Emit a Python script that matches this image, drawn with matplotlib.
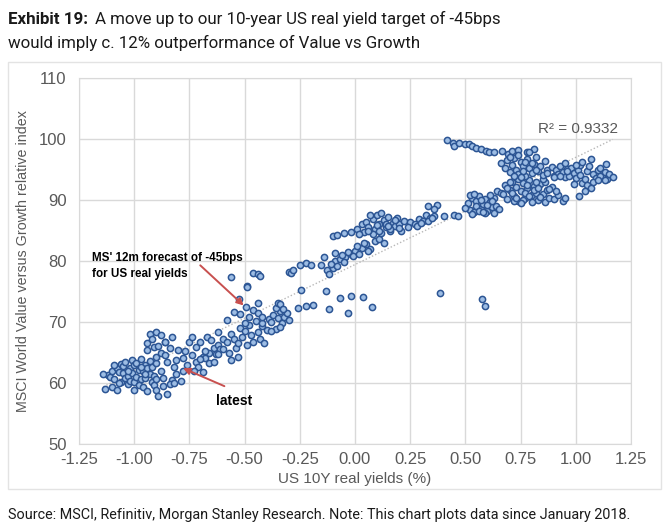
import numpy as np
import matplotlib
matplotlib.use("Agg")
import matplotlib.pyplot as plt
from matplotlib.patches import Rectangle

# US 10Y real yield (%) vs MSCI World Value/Growth relative index
# clusters roughly follow the path of the data through time
x_a = [-1.12, -1.11, -1.10, -1.10, -1.09, -1.08, -1.08, -1.07, -1.06, -1.06, -1.05, -1.05,
       -1.04, -1.04, -1.03, -1.03, -1.02, -1.02, -1.01, -1.01, -1.00, -1.00, -0.99, -0.99,
       -0.98, -0.98, -0.97, -0.97, -0.96, -0.96, -0.95, -0.95, -0.94, -0.94, -0.93, -0.93,
       -0.92, -0.92, -0.91, -0.91, -0.90, -0.90, -1.09, -1.07, -1.03, -1.00, -0.97, -0.95,
       -1.14, -1.13]
y_a = [61.3, 61.0, 59.4, 62.0, 60.6, 58.9, 62.4, 61.8, 63.1, 60.2, 61.7, 62.8,
       60.9, 63.5, 61.2, 59.8, 62.5, 60.4, 63.8, 61.6, 60.1, 62.9, 61.0, 63.3,
       59.7, 62.2, 60.6, 64.0, 61.9, 59.3, 63.0, 60.8, 62.4, 58.7, 61.5, 63.6,
       60.2, 62.7, 61.1, 59.6, 63.2, 60.7, 63.0, 60.0, 62.0, 58.9, 62.6, 61.4,
       61.4, 59.0]

x_b = [-0.93, -0.90, -0.88, -0.86, -0.83, -0.94, -0.91, -0.86, -0.84, -0.94, -0.90, -0.88,
       -0.85, -0.82, -0.81, -0.88, -0.87, -0.83, -0.81, -0.78, -0.78, -0.80, -0.90, -0.89,
       -0.85, -0.87, -0.84, -0.82, -0.79, -0.92, -0.89, -0.86]
y_b = [68.1, 68.4, 67.8, 66.8, 67.6, 66.5, 65.9, 66.8, 65.7, 65.4, 64.3, 64.9,
       63.5, 62.7, 63.8, 61.9, 60.8, 60.5, 61.4, 61.9, 64.1, 65.4, 58.9, 57.9,
       58.2, 59.5, 59.9, 60.0, 60.3, 67.2, 66.0, 64.6]

x_c = [-0.77, -0.75, -0.74, -0.72, -0.70, -0.69, -0.67, -0.66, -0.65, -0.64, -0.72, -0.71,
       -0.68, -0.66, -0.63, -0.62, -0.76, -0.73, -0.70, -0.68, -0.64, -0.61, -0.60, -0.62,
       -0.74, -0.69]
y_c = [65.2, 66.8, 64.6, 65.9, 66.8, 64.2, 67.6, 64.9, 67.0, 65.7, 63.5, 62.6,
       64.1, 63.2, 64.8, 66.3, 63.0, 62.0, 63.9, 65.3, 63.4, 65.5, 67.2, 68.3,
       67.5, 61.8]

x_d = [-0.60, -0.58, -0.57, -0.56, -0.55, -0.54, -0.53, -0.52, -0.51, -0.50, -0.49, -0.48,
       -0.47, -0.46, -0.45, -0.44, -0.43, -0.42, -0.41, -0.40, -0.39, -0.58, -0.55, -0.52,
       -0.50, -0.48, -0.46, -0.44, -0.42, -0.56, -0.53, -0.62,
       -0.38, -0.37, -0.36, -0.35, -0.34, -0.33, -0.32, -0.31, -0.30, -0.38, -0.36, -0.34]
y_d = [65.5, 66.8, 64.9, 68.0, 67.2, 65.8, 66.5, 69.0, 67.6, 68.6, 66.3, 69.5,
       67.9, 66.8, 70.2, 68.4, 67.2, 69.3, 66.6, 68.7, 70.5, 70.4, 71.7, 71.3,
       69.9, 70.8, 72.0, 71.5, 69.8, 63.8, 64.3, 64.8,
       70.0, 71.2, 68.9, 70.6, 71.8, 69.8, 70.9, 71.5, 70.3, 68.6, 72.3, 69.2]

# scattered points between 70 and 78
x_e = [-0.56, -0.46, -0.44, -0.49, -0.525, -0.44, -0.495, -0.35, -0.43, -0.49, -0.30,
       -0.243, -0.132, -0.066, -0.018, 0.037, 0.078, -0.118, -0.03, -0.19, -0.22, -0.26,
       -0.34, -0.325, -0.42, 0.386, 0.573, 0.588]
y_e = [77.4, 78.1, 77.8, 75.9, 73.7, 73.1, 72.4, 73.1, 77.6, 75.7, 78.2,
       75.3, 75.1, 73.9, 74.3, 74.1, 72.5, 72.1, 71.4, 72.8, 72.6, 72.3,
       72.9, 72.2, 70.9, 74.8, 73.8, 72.7]

x_g = [-0.29, -0.28, -0.25, -0.22, -0.20, -0.155, -0.14, -0.125, -0.10, -0.09, -0.07, -0.044,
       -0.02, 0.0, 0.03, 0.05, 0.09, 0.11, -0.11, -0.08, -0.06, -0.05, -0.03, -0.01,
       0.01, 0.02, 0.04, 0.07, -0.12, -0.09, 0.06, 0.13]
y_g = [78.1, 78.6, 79.3, 79.7, 79.4, 79.3, 80.6, 78.6, 78.9, 80.0, 80.3, 80.6,
       81.1, 81.7, 82.2, 82.8, 83.3, 83.6, 79.5, 79.2, 81.0, 79.9, 81.5, 80.8,
       82.4, 81.2, 83.0, 82.0, 77.9, 81.3, 81.6, 83.0]

x_h = [-0.10, -0.08, -0.05, -0.02, 0.007, 0.03, 0.05, 0.04, 0.06, 0.08, 0.09, 0.10,
       0.11, 0.12, 0.13, 0.14, 0.15, 0.16, 0.17, 0.18, 0.19, 0.20, 0.21, 0.22,
       0.08, 0.10, 0.12, 0.14, 0.16, 0.18, 0.20, 0.06, 0.25, 0.27, 0.29, 0.31,
       0.32, 0.34, 0.36, 0.37, 0.24, 0.28, 0.30, 0.33, 0.35, 0.02, 0.07, 0.11,
       0.15, 0.33, 0.36, 0.405, 0.45, 0.465]
y_h = [84.1, 84.3, 84.6, 84.7, 85.3, 86.1, 86.4, 84.8, 85.6, 86.9, 85.2, 87.5,
       86.1, 84.6, 86.8, 85.5, 87.2, 84.9, 86.3, 85.7, 87.0, 86.0, 85.0, 86.5,
       84.4, 85.9, 87.9, 86.0, 85.2, 86.8, 85.4, 85.0, 86.4, 86.0, 86.9, 86.5,
       87.5, 87.0, 87.3, 89.2, 85.6, 85.8, 86.2, 86.6, 87.1, 84.5, 87.6, 84.9,
       85.7, 89.0, 88.5, 87.4, 87.6, 87.3]

x_i = [0.418, 0.443, 0.45, 0.47, 0.496, 0.518, 0.53, 0.548, 0.57, 0.593, 0.608, 0.63,
       0.668, 0.693, 0.713, 0.738]
y_i = [99.8, 99.3, 98.9, 99.4, 99.2, 99.1, 98.8, 98.6, 98.4, 98.1, 97.8, 97.9,
       98.0, 97.6, 98.1, 98.2]

x_j = [0.51, 0.52, 0.53, 0.54, 0.55, 0.56, 0.57, 0.58, 0.59, 0.60, 0.61, 0.62,
       0.63, 0.64, 0.645, 0.66, 0.53, 0.55, 0.57, 0.59, 0.61, 0.63, 0.52, 0.56,
       0.60, 0.54, 0.58, 0.62, 0.65, 0.50]
y_j = [89.5, 88.4, 90.3, 88.0, 89.8, 90.7, 88.6, 89.3, 90.1, 88.2, 89.6, 88.8,
       90.4, 89.0, 91.4, 91.1, 87.7, 89.0, 90.0, 87.9, 90.8, 87.8, 90.9, 88.2,
       89.2, 91.0, 88.0, 89.9, 88.5, 88.7]

x_k = [0.67, 0.68, 0.69, 0.70, 0.71, 0.72, 0.73, 0.74, 0.75, 0.76, 0.77, 0.78,
       0.79, 0.80, 0.81, 0.82, 0.83, 0.84, 0.85, 0.86, 0.87, 0.88, 0.89, 0.90,
       0.92, 0.94, 0.70, 0.72, 0.74, 0.76, 0.78, 0.80, 0.82, 0.84, 0.86, 0.88,
       0.71, 0.73, 0.75, 0.77, 0.79, 0.81, 0.83, 0.69, 0.85, 0.91, 0.95]
y_k = [91.0, 92.4, 90.2, 91.7, 93.0, 90.6, 92.1, 89.8, 91.4, 92.8, 90.4, 91.9,
       93.3, 90.9, 92.3, 91.2, 90.0, 92.6, 91.0, 89.7, 91.6, 90.4, 92.2, 90.1,
       90.8, 89.9, 92.9, 89.9, 93.4, 90.0, 92.4, 89.6, 93.0, 90.5, 92.9, 91.8,
       91.2, 90.3, 89.5, 91.1, 90.7, 91.6, 92.0, 92.0, 93.4, 91.5, 90.3]

x_l = [0.66, 0.68, 0.69, 0.70, 0.71, 0.72, 0.73, 0.74, 0.75, 0.76, 0.77, 0.78,
       0.79, 0.80, 0.81, 0.82, 0.83, 0.84, 0.85, 0.86, 0.87, 0.70, 0.72, 0.74,
       0.76, 0.78, 0.80, 0.82, 0.75, 0.77, 0.81, 0.79]
y_l = [96.0, 95.2, 96.5, 94.6, 95.8, 96.9, 95.0, 94.2, 96.2, 95.5, 94.0, 96.7,
       95.3, 94.4, 95.9, 97.0, 94.8, 95.5, 94.1, 96.4, 95.0, 97.0, 94.0, 97.3,
       94.8, 97.8, 96.0, 95.0, 93.7, 96.3, 98.3, 97.8]

x_m = [0.87, 0.89, 0.90, 0.91, 0.92, 0.93, 0.94, 0.95, 0.96, 0.97, 0.98, 0.99,
       1.00, 1.01, 1.02, 1.03, 1.04, 1.05, 1.06, 1.07, 1.08, 1.09, 1.10, 1.11,
       1.12, 1.13, 1.14, 1.15, 0.90, 0.93, 0.96, 0.99, 1.02, 1.05, 1.08, 1.11,
       1.015, 1.03, 1.07, 0.95, 1.00, 1.04, 1.167, 1.137, 1.13, 1.10]
y_m = [94.5, 95.4, 94.0, 95.0, 94.3, 95.6, 94.6, 93.8, 95.1, 94.0, 95.3, 94.4,
       93.6, 95.0, 94.1, 92.8, 93.5, 94.8, 95.6, 96.7, 94.3, 93.6, 94.9, 95.3,
       93.9, 94.6, 93.5, 94.2, 93.7, 93.9, 94.8, 92.6, 95.7, 92.4, 93.0, 94.0,
       90.6, 96.2, 92.0, 96.1, 95.8, 91.5, 93.8, 95.9, 93.2, 93.2]

forecast_pt = (-0.495, 72.4)
latest_pt = (-0.79, 62.6)
r2_text = "R\u00b2 = 0.9332"

real_yield = np.array(x_a + x_b + x_c + x_d + x_e + x_g + x_h + x_i + x_j + x_k + x_l + x_m)
rel_index = np.array(y_a + y_b + y_c + y_d + y_e + y_g + y_h + y_i + y_j + y_k + y_l + y_m)

plt.rcParams['font.family'] = ['Liberation Sans', 'DejaVu Sans']

fig = plt.figure(figsize=(6.7, 5.3), dpi=100)
ax = fig.add_axes([79 / 670, 1 - 444 / 530, (631 - 79) / 670, (444 - 78) / 530])

# chart box
fig.patches.append(Rectangle((8 / 670, 1 - 489 / 530), 653 / 670, 427 / 530,
                             transform=fig.transFigure, fill=False,
                             edgecolor='#e3e3e3', linewidth=1))

ax.scatter(real_yield, rel_index, s=20, facecolor='#9dbde4', edgecolor='#2c5594',
           linewidth=1.1, zorder=3)

# linear trendline
slope, intercept = np.polyfit(real_yield, rel_index, 1)
xs = np.array([real_yield.min(), real_yield.max()])
ax.plot(xs, slope * xs + intercept, linestyle=(0, (1, 1.5)), color='#b8b8b8',
        linewidth=1, zorder=2)

ax.set_xlim(-1.25, 1.25)
ax.set_ylim(50, 110)
ax.set_xticks(np.arange(-1.25, 1.26, 0.25))
ax.set_xticklabels([f"{v:.2f}" for v in np.arange(-1.25, 1.26, 0.25)])
ax.set_yticks(range(50, 111, 10))
ax.grid(True, color='#d9d9d9', linewidth=1)
ax.set_axisbelow(True)
for s in ax.spines.values():
    s.set_color('#d9d9d9')
ax.tick_params(length=0, labelsize=12, labelcolor='#595959', pad=9)
ax.tick_params(axis='x', pad=6)
ax.set_xlabel("US 10Y real yields (%)", fontsize=11, color='#595959', labelpad=3)
ax.set_ylabel("MSCI World Value versus Growth relative index", fontsize=10.3,
              color='#595959', labelpad=6)

ax.text(0.83, 101.0, r2_text, fontsize=11, color='#595959')

ax.annotate("", xy=forecast_pt, xytext=(-0.71, 79.6),
            arrowprops=dict(arrowstyle='-|>', color='#c8504f', lw=1.4,
                            mutation_scale=10), zorder=4)
ax.text(-1.19, 81.4, "MS' 12m forecast of -45bps\nfor US real yields", fontsize=8.4,
        fontweight='bold', va='top', linespacing=1.35)
ax.annotate("", xy=latest_pt, xytext=(-0.58, 59.3),
            arrowprops=dict(arrowstyle='-|>', color='#c8504f', lw=1.4,
                            mutation_scale=10), zorder=4)
ax.text(-0.63, 57.0, "latest", fontsize=10, fontweight='bold', va='center')

# title: bold lead-in, then the rest
title_font = ['Roboto', 'DejaVu Sans']
t1 = fig.text(8 / 670, 1 - 19 / 530, "Exhibit 19:", fontsize=12.2, fontweight='bold',
              family=title_font, va='center', color='#1a1a1a')
fig.canvas.draw()
bb = t1.get_window_extent()
fig.text((bb.x1 + 7) / 670, 1 - 19 / 530,
         "A move up to our 10-year US real yield target of -45bps", fontsize=12.2,
         family=title_font, va='center', color='#1a1a1a')
fig.text(8 / 670, 1 - 43 / 530, "would imply c. 12% outperformance of Value vs Growth",
         fontsize=12.2, family=title_font, va='center', color='#1a1a1a')

fig.text(8 / 670, 1 - 515 / 530,
         "Source: MSCI, Refinitiv, Morgan Stanley Research. Note: This chart plots data since January 2018.",
         fontsize=10.4, family=title_font, va='center', color='#1a1a1a')

fig.savefig("out.png", dpi=100)
